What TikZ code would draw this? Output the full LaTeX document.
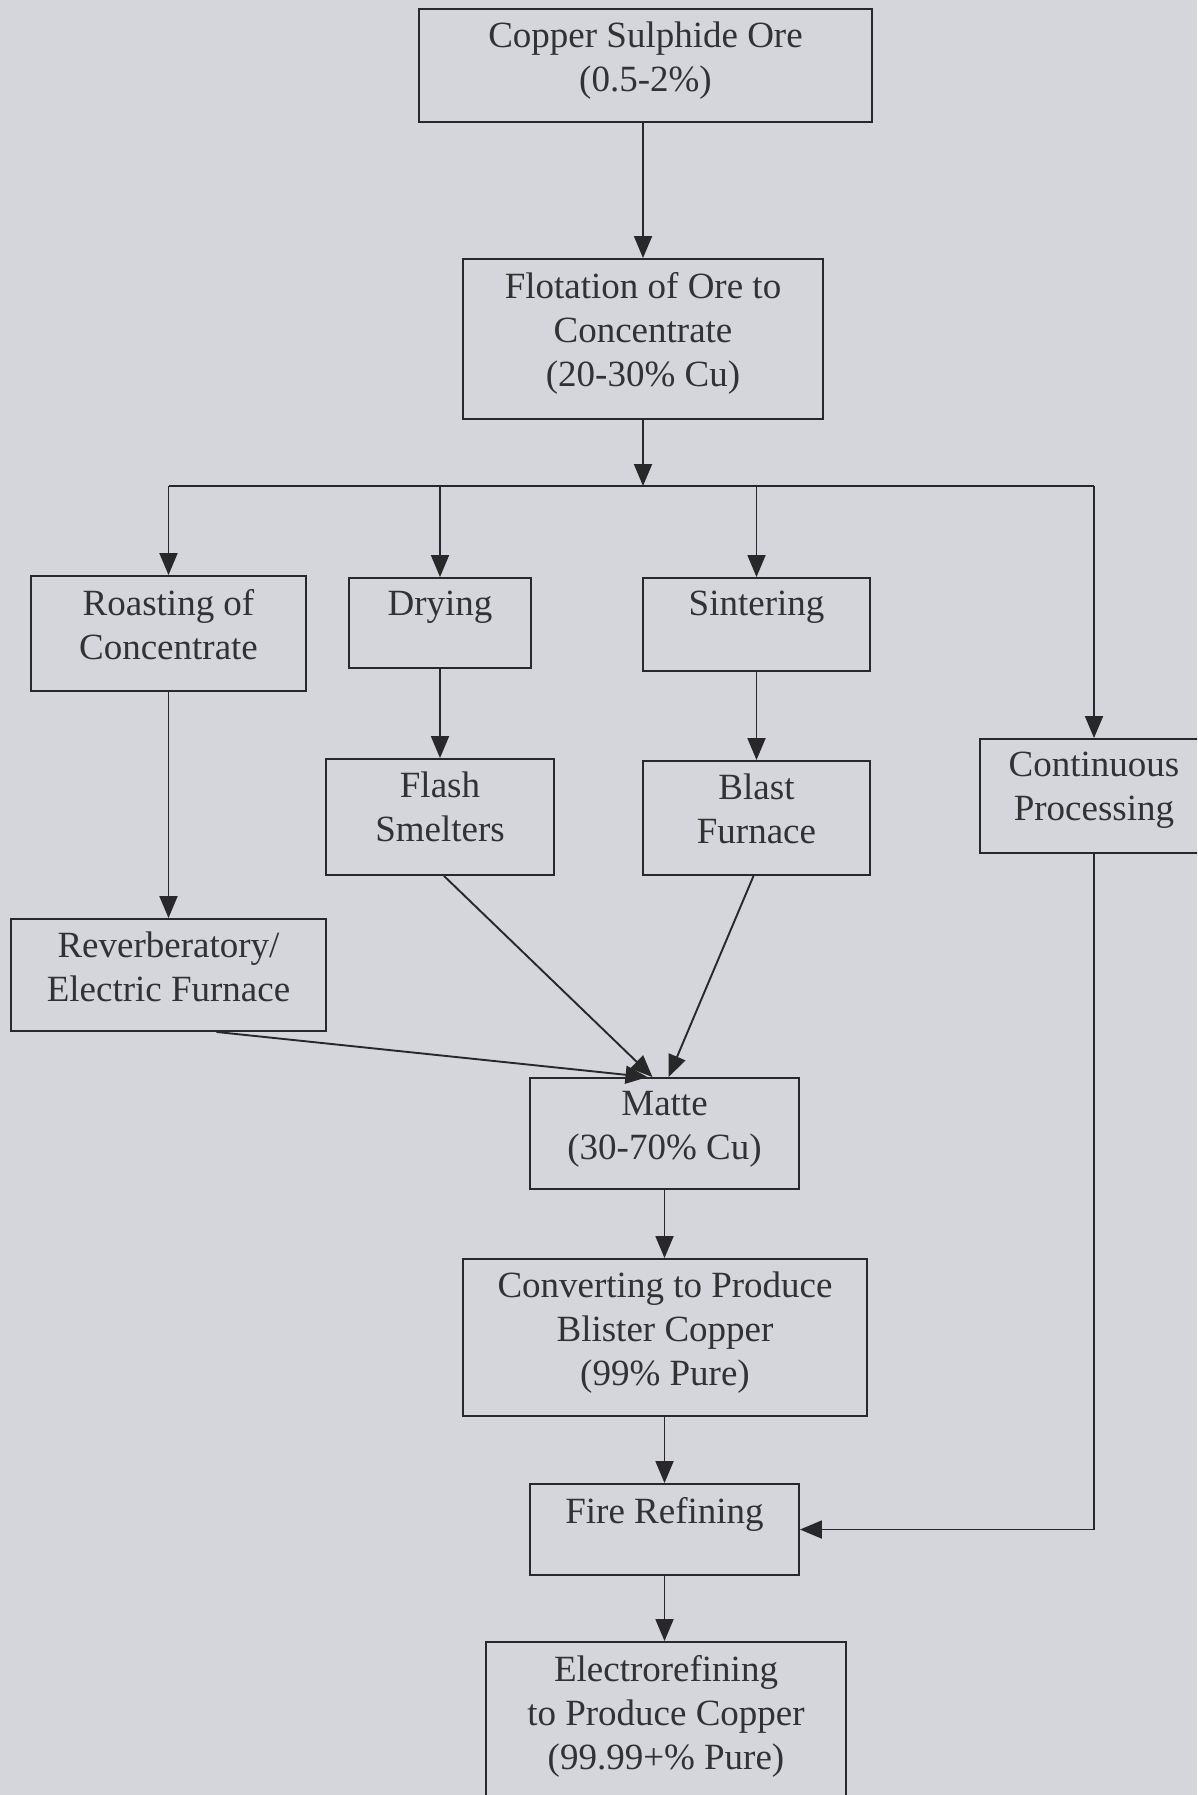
\documentclass[tikz,border=0pt]{standalone}
\usepackage{fontspec}
\setmainfont{Liberation Serif}
\usetikzlibrary{arrows.meta,calc}
\definecolor{bg}{RGB}{213,214,219}
\definecolor{linec}{RGB}{40,40,43}
\definecolor{textc}{RGB}{50,50,52}
\tikzset{
  box/.style={draw=linec, line width=1.9pt, rectangle, inner sep=0pt},
  txt/.style={anchor=north, align=center, font=\fontsize{37}{44}\selectfont, text=textc, inner sep=0pt, yshift=-14pt},
  arr/.style={draw=linec, line width=1.9pt, -{Triangle[length=22pt,width=18pt]}},
  ln/.style={draw=linec, line width=1.9pt}
}
\begin{document}
\begin{tikzpicture}[x=1pt,y=-1pt]
\useasboundingbox (0,0) rectangle (1197,1795);
\clip (0,0) rectangle (1197,1795);
\fill[bg] (0,0) rectangle (1197,1795);

\node[box, minimum width=453pt, minimum height=113pt, label={[txt]north:{Copper Sulphide Ore\\(0.5-2\%)}}] (ore) at (645.5,65.5) {};
\node[box, minimum width=360pt, minimum height=160pt, label={[txt]north:{Flotation of Ore to\\Concentrate\\(20-30\% Cu)}}] (flot) at (643,339) {};
\node[box, minimum width=275pt, minimum height=115pt, label={[txt]north:{Roasting of\\Concentrate}}] (roast) at (168.5,633.5) {};
\node[box, minimum width=182pt, minimum height=90pt, label={[txt]north:{Drying}}] (dry) at (440,623) {};
\node[box, minimum width=227pt, minimum height=93pt, label={[txt]north:{Sintering}}] (sint) at (756.5,624.5) {};
\node[box, minimum width=228pt, minimum height=116pt, label={[txt]north:{Flash\\Smelters}}] (flash) at (440,817) {};
\node[box, minimum width=227pt, minimum height=114pt, label={[txt]north:{Blast\\Furnace}}] (blast) at (756.5,818) {};
\node[box, minimum width=228pt, minimum height=114pt, label={[txt]north:{Continuous\\Processing}}] (cont) at (1094,796) {};
\node[box, minimum width=315pt, minimum height=112pt, label={[txt]north:{Reverberatory/\\Electric Furnace}}] (reverb) at (168.5,975) {};
\node[box, minimum width=269pt, minimum height=111pt, label={[txt]north:{Matte\\(30-70\% Cu)}}] (matte) at (664.5,1133.5) {};
\node[box, minimum width=404pt, minimum height=157pt, label={[txt]north:{Converting to Produce\\Blister Copper\\(99\% Pure)}}] (conv) at (665,1337.5) {};
\node[box, minimum width=269pt, minimum height=91pt, label={[txt]north:{Fire Refining}}] (fire) at (664.5,1529.5) {};
\node[box, minimum width=360pt, minimum height=168pt, label={[txt]north:{Electrorefining\\to Produce Copper\\(99.99+\% Pure)}}] (elec) at (666,1726) {};

\coordinate (split) at (643,486);
\coordinate (bl) at (168.5,486);
\coordinate (br) at (1094,486);

\draw[arr] (ore.south -| flot.north) -- (flot.north);
\draw[arr] (flot.south) -- (split);
\draw[ln] (bl) -- (br);
\draw[arr] (bl) -- (roast.north);
\draw[arr] (bl -| dry.north) -- (dry.north);
\draw[arr] (bl -| sint.north) -- (sint.north);
\draw[arr] (br) -- (cont.north);
\draw[arr] (roast.south) -- (reverb.north);
\draw[arr] (dry.south) -- (flash.north);
\draw[arr] (sint.south) -- (blast.north);
\draw[arr] ($(reverb.south)+(48,0)$) -- ($(matte.north)+(-17,0)$);
\draw[arr] ($(flash.south)+(4,0)$) -- ($(matte.north)+(-12,0)$);
\draw[arr] ($(blast.south)+(-3,0)$) -- ($(matte.north)+(4,0)$);
\draw[arr] (matte.south) -- (conv.north -| matte.south);
\draw[arr] (conv.south -| fire.north) -- (fire.north);
\draw[arr] (fire.south) -- (elec.north -| fire.south);
\draw[arr] (cont.south) |- (fire.east);
\end{tikzpicture}
\end{document}
